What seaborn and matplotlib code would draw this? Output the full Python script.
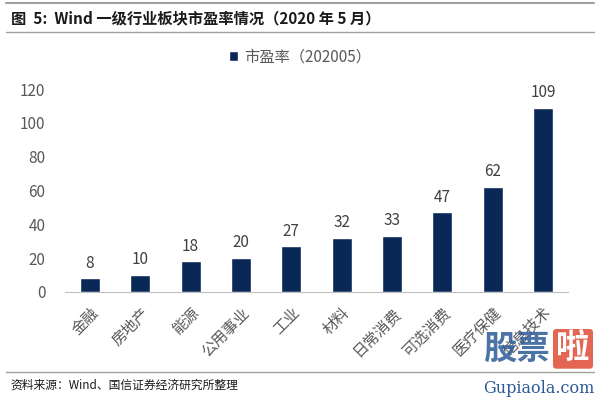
import pandas as pd
import numpy as np
import matplotlib.pyplot as plt
import seaborn as sns
from matplotlib.lines import Line2D

sns.set_style('white')
plt.rcParams['font.family'] = ['Noto Sans CJK SC', 'DejaVu Sans']

sectors = ['金融', '房地产', '能源', '公用事业', '工业', '材料', '日常消费', '可选消费', '医疗保健', '信息技术']
pe = [8, 10, 18, 20, 27, 32, 33, 47, 62, 109]
series_name = '市盈率（202005）'

data = pd.DataFrame({'sector': sectors, 'pe': pe})

navy = '#0a2856'
gray_txt = '#595959'

fig = plt.figure(figsize=(6, 4.01), dpi=100)
ax = fig.add_axes([0.108, 0.272, 0.839, 0.506])

sns.barplot(x='sector', y='pe', data=data, color=navy, width=0.4, ax=ax,
            saturation=1, label=series_name)

for i, v in enumerate(pe):
    ax.text(i, v + 4, str(v), ha='center', va='bottom', fontsize=11, color='#404040')

ax.set_ylim(0, 120)
ax.set_yticks(range(0, 121, 20))
ax.set_xlim(-0.5, len(sectors) - 0.5)
ax.set_xlabel('')
ax.set_ylabel('')

for s in ['top', 'right', 'left']:
    ax.spines[s].set_visible(False)
ax.spines['bottom'].set_color('#bfbfbf')

# ticks between categories
ax.set_xticks(np.arange(len(sectors)))
ax.set_xticklabels(sectors, rotation=45, ha='right', rotation_mode='anchor',
                   fontsize=11, color=gray_txt)
ax.set_xticks(np.arange(-0.5, len(sectors)), minor=True)
ax.tick_params(axis='x', which='major', length=0, pad=9)
ax.tick_params(axis='x', which='minor', length=4, color='#bfbfbf', direction='out')
ax.tick_params(axis='y', length=0, labelsize=11, labelcolor=gray_txt, pad=14)

leg = ax.legend(loc='center', bbox_to_anchor=(0.467, 1.16), frameon=False,
                fontsize=11, handlelength=0.6, handleheight=0.6, handletextpad=0.4)
for t in leg.get_texts():
    t.set_color(gray_txt)

# title and rules
fig.add_artist(Line2D([0.01, 0.99], [0.993, 0.993], color='#a0a0a0', lw=1.5))
fig.add_artist(Line2D([0.01, 0.99], [0.92, 0.92], color='#a0a0a0', lw=1.0))
fig.add_artist(Line2D([0.01, 0.99], [0.072, 0.072], color='#a0a0a0', lw=1.0))
fig.text(0.018, 0.955, '图  5:  Wind 一级行业板块市盈率情况（2020 年 5 月）',
         fontsize=11, fontweight='bold', color='#1a1a1a', va='center', ha='left')
fig.text(0.018, 0.04, '资料来源：Wind、国信证券经济研究所整理', fontsize=8.5,
         color='#1a1a1a', va='center', ha='left')

# watermark
fig.text(0.86, 0.13, '股票', fontsize=24, fontweight='bold', color='#2d5b96',
         va='center', ha='center', alpha=0.85)
fig.text(0.955, 0.13, '啦', fontsize=24, fontweight='bold', color='white',
         va='center', ha='center',
         bbox=dict(boxstyle='round,pad=0.1', fc='#e0553f', ec='none', alpha=0.9))
fig.text(0.99, 0.03, 'Gupiaola.com', fontsize=11.5, color='#2d5b96',
         va='center', ha='right', family='DejaVu Serif')

fig.savefig('out.png', dpi=100)
